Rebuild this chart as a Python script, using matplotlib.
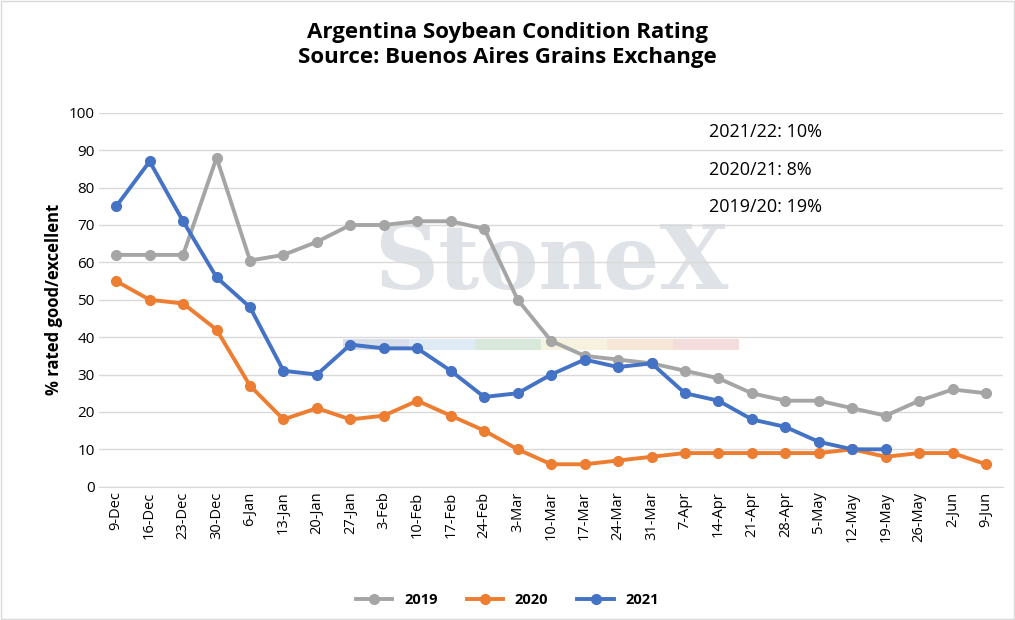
import numpy as np
import matplotlib.pyplot as plt

weeks = ['9-Dec', '16-Dec', '23-Dec', '30-Dec', '6-Jan', '13-Jan', '20-Jan', '27-Jan',
         '3-Feb', '10-Feb', '17-Feb', '24-Feb', '3-Mar', '10-Mar', '17-Mar', '24-Mar',
         '31-Mar', '7-Apr', '14-Apr', '21-Apr', '28-Apr', '5-May', '12-May', '19-May',
         '26-May', '2-Jun', '9-Jun']
y2019 = [62, 62, 62, 88, 60.5, 62, 65.5, 70, 70, 71, 71, 69, 50, 39, 35, 34, 33, 31, 29,
         25, 23, 23, 21, 19, 23, 26, 25]
y2020 = [55, 50, 49, 42, 27, 18, 21, 18, 19, 23, 19, 15, 10, 6, 6, 7, 8, 9, 9, 9, 9, 9,
         10, 8, 9, 9, 6]
y2021 = [75, 87, 71, 56, 48, 31, 30, 38, 37, 37, 31, 24, 25, 30, 34, 32, 33, 25, 23, 18,
         16, 12, 10, 10]
notes = ['2021/22: 10%', '2020/21: 8%', '2019/20: 19%']

plt.rcParams['font.family'] = ['Open Sans', 'DejaVu Sans']
fig = plt.figure(figsize=(10.15, 6.2), dpi=100)
ax = fig.add_axes([0.098, 0.215, 0.89, 0.603])

# watermark
ax.text(0.5, 0.595, 'StoneX', transform=ax.transAxes, ha='center', va='center',
        fontsize=64, fontfamily='DejaVu Serif', fontweight='bold', color='#d2d8de', alpha=0.7, zorder=0)
cols = ['#cfd8e6', '#d7e6f2', '#cfe3d3', '#f6efd8', '#f5e1d0', '#f2d4d4']
for i, c in enumerate(cols):
    ax.add_patch(plt.Rectangle((0.27 + i * 0.073, 0.365), 0.073, 0.03, transform=ax.transAxes,
                               color=c, alpha=0.8, zorder=0, lw=0))

x = np.arange(len(weeks))
for y, c, lab in [(y2019, '#a5a5a5', '2019'), (y2020, '#ed7d31', '2020'), (y2021, '#4472c4', '2021')]:
    ax.plot(x[:len(y)], y, color=c, lw=2.8, marker='o', ms=7, label=lab, zorder=3)

ax.set_ylim(0, 100)
ax.set_yticks(range(0, 101, 10))
ax.set_xlim(-0.5, len(weeks) - 0.5)
ax.set_xticks(x)
ax.set_xticklabels(weeks, rotation=90, fontsize=10.5)
ax.tick_params(axis='y', labelsize=11, length=0)
ax.tick_params(axis='x', length=0)
ax.grid(axis='y', color='#d9d9d9', lw=1)
for s in ['top', 'right', 'left']:
    ax.spines[s].set_visible(False)
ax.spines['bottom'].set_color('#d9d9d9')
ax.set_ylabel('% rated good/excellent', fontsize=12, fontweight='bold')

for i, n in enumerate(notes):
    ax.text(0.675, 0.935 - i * 0.1, n, transform=ax.transAxes, fontsize=13)

fig.suptitle('Argentina Soybean Condition Rating\nSource: Buenos Aires Grains Exchange',
             y=0.965, fontsize=16, fontweight='bold', linespacing=1.3)
fig.legend(loc='lower center', ncol=3, frameon=False, bbox_to_anchor=(0.5, 0.0),
           handlelength=2.5, prop={'weight': 'bold', 'size': 10.5})
fig.patches.append(plt.Rectangle((0.001, 0.001), 0.998, 0.997, transform=fig.transFigure,
                                 fill=False, edgecolor='#d9d9d9', lw=1))
fig.savefig('out.png')
